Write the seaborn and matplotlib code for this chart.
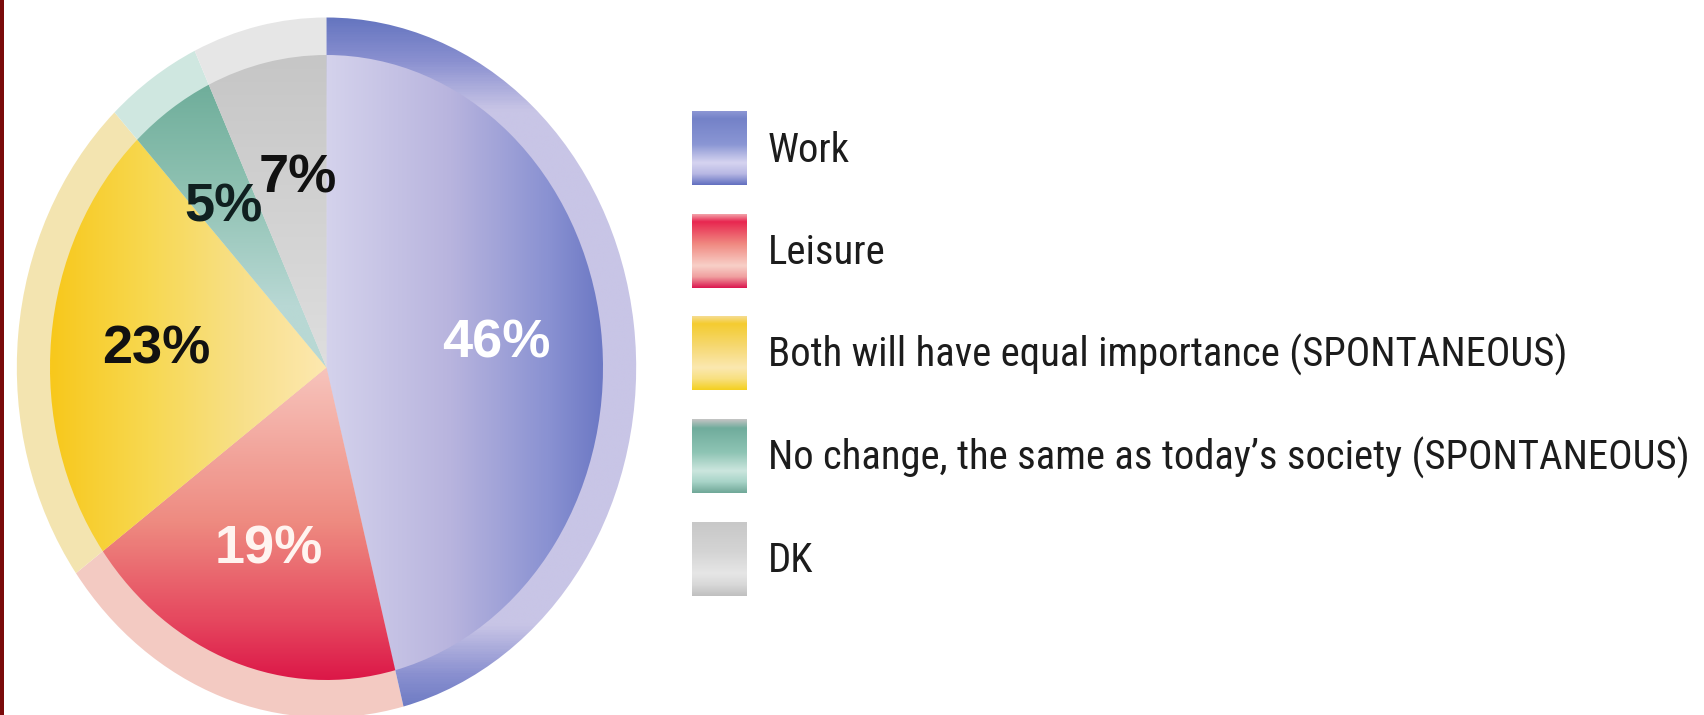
import numpy as np
import matplotlib
matplotlib.use("Agg")
import matplotlib.pyplot as plt
from matplotlib.colors import LinearSegmentedColormap
from matplotlib.patches import Rectangle
from matplotlib import font_manager
from matplotlib.font_manager import FontProperties
import seaborn as sns

# ---- data -------------------------------------------------------------
categories = [
    "Work",
    "Leisure",
    "Both will have equal importance (SPONTANEOUS)",
    "No change, the same as today\u2019s society (SPONTANEOUS)",
    "DK",
]
shares = [46, 19, 23, 5, 7]

# ---- styling -----------------------------------------------------------
W, H = 1704, 715
sns.set_theme(style="white")
installed = {f.name for f in font_manager.fontManager.ttflist}
pct_font = "Liberation Sans" if "Liberation Sans" in installed else "DejaVu Sans"
plt.rcParams["font.family"] = ["DejaVu Sans"]


def narrow_font():
    """Pick a condensed sans face for the legend, if one is installed."""
    narrow = [f for f in font_manager.fontManager.ttflist
              if f.stretch in ("condensed", "semi-condensed", "extra-condensed", "ultra-condensed")
              and f.style == "normal" and f.weight in (400, "normal", "regular", "book")]
    for pref in ("Liberation Sans Narrow", "Roboto Condensed", "Open Sans Condensed",
                 "Noto Sans", "DejaVu Sans"):
        for f in narrow:
            if f.name == pref:
                return FontProperties(fname=f.fname)
    for f in font_manager.fontManager.ttflist:
        low = f.fname.lower()
        if ("narrow" in low or "condensed" in low) and "bold" not in low and "italic" not in low \
                and "oblique" not in low:
            return FontProperties(fname=f.fname)
    if narrow:
        return FontProperties(fname=narrow[0].fname)
    return FontProperties(family="DejaVu Sans")


legend_fp = narrow_font()

# gradient fills for the pie face: (axis, start, end, colour stops)
inner_fill = [
    ("x", 0.0, 1.0, [(0, "#d4d2ec"), (0.45, "#b8b4de"), (0.8, "#8a92d2"), (1, "#6c78c4")]),
    ("y", 0.0, -1.0, [(0, "#f7c4bc"), (0.5, "#ee8a80"), (0.8, "#e64a60"), (1, "#dc1848")]),
    ("x", -1.0, 0.0, [(0, "#f8c81c"), (0.35, "#f7d850"), (0.7, "#f8e08a"), (1, "#fde8b0")]),
    ("y", 1.0, 0.2, [(0, "#66a894"), (0.5, "#8cc0b0"), (1, "#b8d8d4")]),
    ("y", 1.0, 0.0, [(0, "#c6c6c6"), (1, "#dedede")]),
]
# the lighter rim around the pie
rim_fill = [
    ("y", -1.12, 1.12, [(0, "#6676c0"), (0.06, "#8a90d0"), (0.13, "#c8c5e6"),
                        (0.87, "#c8c5e6"), (0.94, "#8a90d0"), (1, "#6676c0")]),
    "#f3cac2",
    "#f3e4b0",
    "#cfe7e0",
    "#e6e6e6",
]
pct_colors = ["white", "#fff4f0", "#111111", "#102020", "#111111"]
# small sideways nudges (axes units) for the two crowded labels
pct_nudge = [0.0, 0.0, 0.0, -0.025, 0.03]

swatch_fill = [
    [(0, "#8c96d4"), (0.1, "#7482c8"), (0.45, "#8a96d4"), (0.7, "#d6d4f0"), (0.85, "#b8b8e4"), (1, "#6270c0")],
    [(0, "#f2a0a8"), (0.1, "#e82650"), (0.4, "#f08880"), (0.7, "#f8d0c8"), (0.85, "#f0a0a0"), (1, "#dc1850")],
    [(0, "#f6dc90"), (0.1, "#f4cc30"), (0.4, "#f6d870"), (0.7, "#fbe8b0"), (0.85, "#f8e080"), (1, "#f4d020")],
    [(0, "#c4c4c4"), (0.12, "#70ac9c"), (0.45, "#8ec4b4"), (0.7, "#cce6de"), (0.85, "#a8d4c8"), (1, "#70a898")],
    [(0, "#c8c8c8"), (0.4, "#d4d4d4"), (0.7, "#e6e6e6"), (0.85, "#d8d8d8"), (1, "#c0c0c0")],
]

fig = plt.figure(figsize=(W / 100, H / 100), dpi=100)
fig.patch.set_facecolor("white")

# pie placed in pixel terms: centre and the two radii of the face
cx, cy, rx, ry = 326.5, 367.5, 276.5, 312.5
lim = 1.15
ax = fig.add_axes([(cx - lim * rx) / W, (H - cy - lim * ry) / H,
                   2 * lim * rx / W, 2 * lim * ry / H])

grid = np.linspace(-lim, lim, 600)
GX, GY = np.meshgrid(grid, grid)


def paint(axis, lo, hi, stops, clip, z):
    coord = GX if axis == "x" else GY
    t = np.clip((coord - lo) / (hi - lo), 0, 1)
    cmap = LinearSegmentedColormap.from_list("fill", stops)
    im = ax.imshow(t, cmap=cmap, vmin=0, vmax=1, extent=(-lim, lim, -lim, lim),
                   origin="lower", interpolation="bilinear", zorder=z, aspect="auto")
    im.set_clip_path(clip)


# rim (slightly larger pie behind the face)
rim_wedges, _ = ax.pie(shares, startangle=90, counterclock=False, radius=1.12,
                       wedgeprops=dict(linewidth=0))
for w, fill in zip(rim_wedges, rim_fill):
    w.set_zorder(0.5)
    if isinstance(fill, str):
        w.set_facecolor(fill)
    else:
        w.set_facecolor("none")
        paint(*fill, clip=w, z=0.6)

# the pie face itself with percentage labels
wedges, _, autotexts = ax.pie(
    shares, startangle=90, counterclock=False, radius=1.0,
    autopct=lambda p: f"{p:.0f}%", pctdistance=0.62,
    wedgeprops=dict(linewidth=0),
)
for w, fill in zip(wedges, inner_fill):
    w.set_facecolor("none")
    w.set_zorder(1)
    paint(*fill, clip=w, z=1.2)
for t, c, dx in zip(autotexts, pct_colors, pct_nudge):
    t.set_color(c)
    t.set_fontsize(39)
    t.set_fontweight("bold")
    t.set_family([pct_font, "DejaVu Sans"])
    t.set_zorder(5)
    px, py = t.get_position()
    t.set_position((px + dx, py))

ax.set_aspect("auto")
ax.set_xlim(-lim, lim)
ax.set_ylim(-lim, lim)
ax.axis("off")

# ---- legend (pixel-based overlay) ---------------------------------------
lax = fig.add_axes([0, 0, 1, 1])
lax.set_xlim(0, W)
lax.set_ylim(H, 0)
lax.axis("off")

# dark strip on the left edge
lax.add_patch(Rectangle((0, 0), 4, H, facecolor="#7a0a0a", edgecolor="none"))

row0, step = 148, 102.7
sw_x0, sw_x1, sw_h = 692, 747, 74
text_x = 768
col = np.linspace(0, 1, 200)[:, None]
texts = []
for i, (name, stops) in enumerate(zip(categories, swatch_fill)):
    yc = row0 + step * i
    cmap = LinearSegmentedColormap.from_list("sw", stops)
    lax.imshow(col, cmap=cmap, vmin=0, vmax=1, aspect="auto", origin="upper",
               extent=(sw_x0, sw_x1, yc + sw_h / 2, yc - sw_h / 2),
               interpolation="bilinear", zorder=2)
    fp = legend_fp.copy()
    fp.set_size(34)
    texts.append(lax.text(text_x, yc + 2, name, fontproperties=fp, color="#1c1c1c",
                          va="center", ha="left"))
lax.set_xlim(0, W)
lax.set_ylim(H, 0)

# size legend text so the longest entry spans its width
renderer = fig.canvas.get_renderer()
widest = max(t.get_window_extent(renderer).width for t in texts)
scale = 924 / widest
for t in texts:
    t.set_fontsize(34 * scale)

fig.savefig("out.png", dpi=100, facecolor="white")
